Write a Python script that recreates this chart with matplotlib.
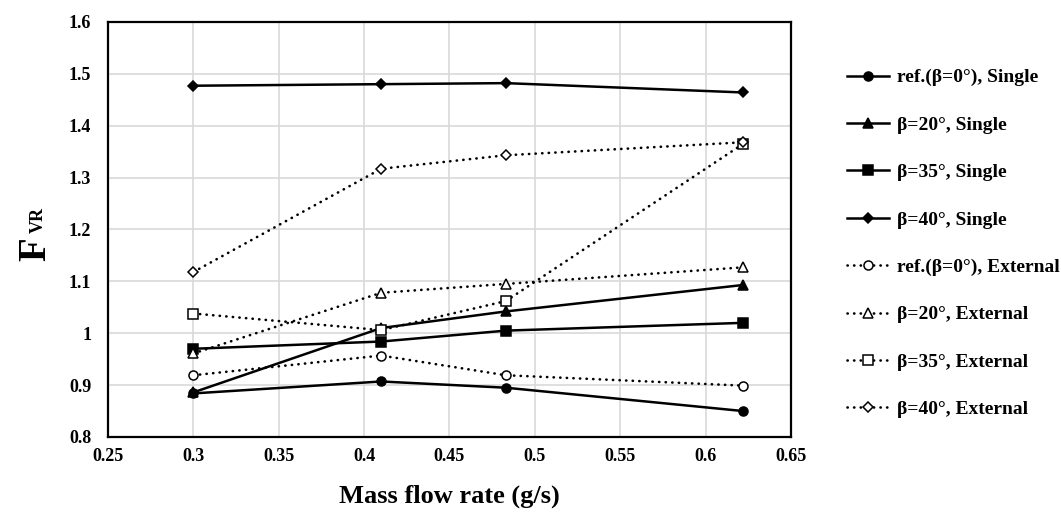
import matplotlib
matplotlib.use("Agg")
import matplotlib.pyplot as plt
from matplotlib.ticker import FuncFormatter, MultipleLocator

plt.rcParams['font.family'] = ['Liberation Serif', 'DejaVu Serif']
plt.rcParams['font.weight'] = 'bold'

# mass flow rate (g/s)
flow = [0.3, 0.41, 0.483, 0.622]

# Single injection
ref_single = [0.884, 0.907, 0.895, 0.850]
b20_single = [0.886, 1.010, 1.042, 1.093]
b35_single = [0.970, 0.984, 1.005, 1.020]
b40_single = [1.477, 1.480, 1.482, 1.464]

# External injection
ref_ext = [0.919, 0.957, 0.919, 0.899]
b20_ext = [0.961, 1.078, 1.095, 1.127]
b35_ext = [1.038, 1.006, 1.062, 1.365]
b40_ext = [1.118, 1.317, 1.343, 1.368]

labels = ["ref.(β=0°), Single", "β=20°, Single", "β=35°, Single", "β=40°, Single",
          "ref.(β=0°), External", "β=20°, External", "β=35°, External", "β=40°, External"]

fig = plt.figure(figsize=(10.61, 5.19), dpi=100)
ax = fig.add_axes([0.1018, 0.158, 0.6437, 0.7998])

series = [ref_single, b20_single, b35_single, b40_single,
          ref_ext, b20_ext, b35_ext, b40_ext]
markers = ['o', '^', 's', 'D'] * 2
msizes = [6.5, 6.5, 6.5, 5.5] * 2

for i, (vals, lab) in enumerate(zip(series, labels)):
    single = i < 4
    kw = dict(color='black', marker=markers[i], markersize=msizes[i], label=lab,
              markeredgecolor='black', markeredgewidth=1.1, zorder=3)
    if single:
        ax.plot(flow, vals, linestyle='-', linewidth=1.8, markerfacecolor='black', **kw)
    else:
        # round dots
        ax.plot(flow, vals, linestyle=(0, (0.1, 2.4)), linewidth=1.9, dash_capstyle='round',
                markerfacecolor='white', **kw)

ax.set_xlim(0.25, 0.65)
ax.set_ylim(0.8, 1.6)
ax.xaxis.set_major_locator(MultipleLocator(0.05))
ax.yaxis.set_major_locator(MultipleLocator(0.1))
fmt = FuncFormatter(lambda v, p: f"{round(v, 2):g}")
ax.xaxis.set_major_formatter(fmt)
ax.yaxis.set_major_formatter(fmt)
ax.grid(True, color='#d9d9d9', linewidth=1.2, zorder=0)
ax.set_axisbelow(True)
ax.tick_params(length=0, labelsize=13)
ax.tick_params(axis='y', pad=12)
ax.tick_params(axis='x', pad=8)
for sp in ax.spines.values():
    sp.set_linewidth(1.6)

ax.set_xlabel("Mass flow rate (g/s)", fontsize=19, fontweight='bold', labelpad=14)

# y label: large F with a small VR subscript
fig.text(0.0339, 0.520, "F", rotation=90, fontsize=28, fontweight='bold',
         ha='center', va='center')
fig.text(0.0365, 0.577, "VR", rotation=90, fontsize=13, fontweight='bold',
         ha='center', va='center')

fig.legend(loc='center left', bbox_to_anchor=(0.798, 0.531), frameon=False,
           fontsize=14, labelspacing=1.53, handlelength=2.2, handletextpad=0.4,
           borderaxespad=0, borderpad=0)

fig.savefig("out.png", dpi=100)
